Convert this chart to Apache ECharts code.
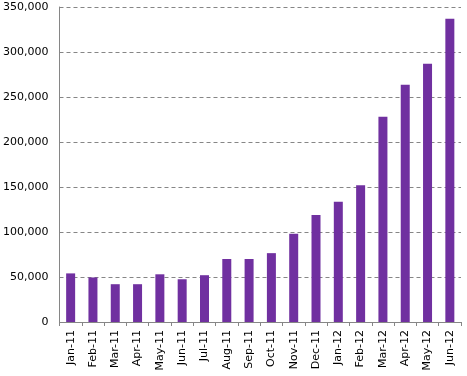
<!DOCTYPE html>
<html>
<head>
<meta charset="utf-8">
<script src="https://cdn.jsdelivr.net/npm/echarts@6/dist/echarts.min.js"></script>
<style>
  html, body { margin: 0; padding: 0; background: #fff; }
  #main { width: 467px; height: 376px; }
</style>
</head>
<body>
<div id="main"></div>
<script>
// months along the x axis
const months = ['Jan-11', 'Feb-11', 'Mar-11', 'Apr-11', 'May-11', 'Jun-11', 'Jul-11', 'Aug-11', 'Sep-11',
  'Oct-11', 'Nov-11', 'Dec-11', 'Jan-12', 'Feb-12', 'Mar-12', 'Apr-12', 'May-12', 'Jun-12'];
// values
const counts = [54000, 49500, 42000, 42000, 53000, 47500, 52000, 70000, 70000,
  76500, 98000, 119000, 133500, 152000, 228000, 263500, 287000, 337000];

const chart = echarts.init(document.getElementById('main'));
const option = {
  animation: false,
  grid: { left: 59, right: 6, top: 7, bottom: 54 },
  xAxis: {
    type: 'category',
    data: months,
    axisLine: { lineStyle: { color: '#868686' } },
    axisTick: { show: true, length: 4, lineStyle: { color: '#868686' } },
    axisLabel: {
      rotate: 90,
      interval: 0,
      color: '#000',
      fontFamily: 'DejaVu Sans',
      fontSize: 11,
      margin: 8
    }
  },
  yAxis: {
    type: 'value',
    min: 0,
    max: 350000,
    interval: 50000,
    axisLine: { show: true, lineStyle: { color: '#868686' } },
    axisTick: { show: false },
    splitLine: { lineStyle: { color: '#868686', type: [4, 3] } },
    axisLabel: {
      color: '#000',
      fontFamily: 'DejaVu Sans',
      fontSize: 11,
      margin: 11,
      formatter: v => v.toLocaleString('en-US')
    }
  },
  series: [{
    type: 'bar',
    data: counts,
    barWidth: 9,
    itemStyle: { color: '#7030A0' }
  }]
};
chart.setOption(option);
</script>
</body>
</html>
